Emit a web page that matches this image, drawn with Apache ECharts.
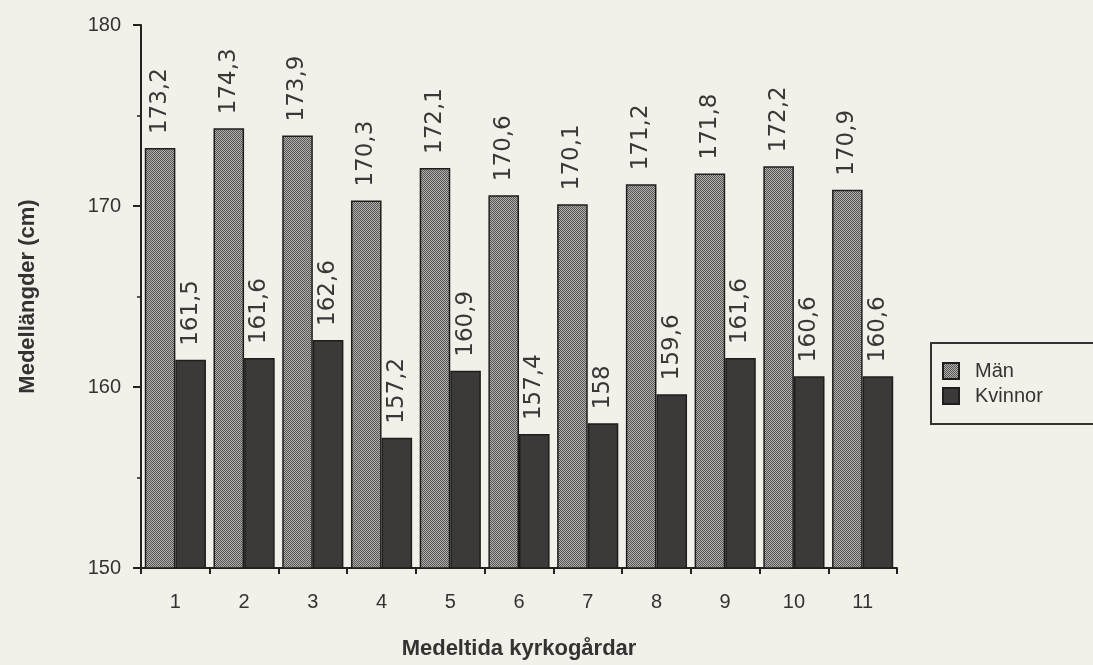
<!DOCTYPE html>
<html>
<head>
<meta charset="utf-8">
<script src="https://cdn.jsdelivr.net/npm/echarts@6/dist/echarts.min.js"></script>
<style>
  html, body { margin: 0; padding: 0; background: #f3f0e9; }
  #chart { width: 1093px; height: 665px; }
</style>
</head>
<body>
<div id="chart"></div>
<script>
const categories = ['1', '2', '3', '4', '5', '6', '7', '8', '9', '10', '11']
const man = [173.2, 174.3, 173.9, 170.3, 172.1, 170.6, 170.1, 171.2, 171.8, 172.2, 170.9]
const kvinnor = [161.5, 161.6, 162.6, 157.2, 160.9, 157.4, 158, 159.6, 161.6, 160.6, 160.6]

const font = '"Liberation Sans", Arial, sans-serif'

// dotted screen like the printed original
function dotPattern() {
  const c = document.createElement('canvas')
  c.width = 2
  c.height = 2
  const ctx = c.getContext('2d')
  ctx.fillStyle = '#b2b0ac'
  ctx.fillRect(0, 0, 2, 2)
  ctx.fillStyle = '#575654'
  ctx.fillRect(0, 0, 1, 1)
  ctx.fillRect(1, 1, 1, 1)
  return c
}

function fmt(p) {
  return String(p.value).replace('.', ',')
}

// the scan's value labels run long, so a wider face is used for them
const label = {
  show: true,
  position: 'top',
  rotate: 90,
  align: 'left',
  verticalAlign: 'middle',
  distance: 14,
  fontSize: 23,
  fontFamily: '"DejaVu Sans", sans-serif',
  color: '#383838',
  formatter: fmt
}

const chart = echarts.init(document.getElementById('chart'), null, { renderer: 'canvas' })
chart.setOption({
  backgroundColor: '#f3f0e9',
  animation: false,
  textStyle: { fontFamily: font },
  grid: { left: 141, right: 196, top: 25, bottom: 96 },
  legend: {
    left: 931,
    top: 343,
    orient: 'vertical',
    icon: 'rect',
    padding: [18, 90, 18, 11],
    itemWidth: 16,
    itemHeight: 16,
    itemGap: 5,
    borderColor: '#333',
    borderWidth: 2,
    textStyle: { fontSize: 20, color: '#333', fontFamily: font, padding: [0, 0, 0, 11] },
    data: ['Män', 'Kvinnor']
  },
  xAxis: {
    type: 'category',
    data: categories,
    name: 'Medeltida kyrkogårdar',
    nameLocation: 'middle',
    nameGap: 70,
    nameTextStyle: { fontSize: 22, fontWeight: 'bold', color: '#333' },
    axisLine: { lineStyle: { color: '#222', width: 2 } },
    axisTick: { show: true, length: 6, lineStyle: { color: '#222', width: 2 } },
    axisLabel: { fontSize: 20, color: '#333', margin: 24 }
  },
  yAxis: {
    type: 'value',
    min: 150,
    max: 180,
    interval: 10,
    name: 'Medellängder (cm)',
    nameLocation: 'middle',
    nameGap: 102,
    nameTextStyle: { fontSize: 22, fontWeight: 'bold', color: '#333' },
    axisLine: { show: true, lineStyle: { color: '#222', width: 2 } },
    axisTick: { show: true, length: 8, lineStyle: { color: '#222', width: 2 } },
    minorTick: { show: true, splitNumber: 2, length: 4, lineStyle: { color: '#222', width: 1.5 } },
    splitLine: { show: false },
    axisLabel: { fontSize: 20, color: '#333', margin: 20 }
  },
  series: [
    {
      name: 'Män',
      type: 'bar',
      data: man,
      barGap: '0%',
      barCategoryGap: '11%',
      itemStyle: {
        color: { image: dotPattern(), repeat: 'repeat' },
        borderColor: '#1e1e1e',
        borderWidth: 1.5
      },
      label: label
    },
    {
      name: 'Kvinnor',
      type: 'bar',
      data: kvinnor,
      itemStyle: {
        color: '#3b3a39',
        borderColor: '#1e1e1e',
        borderWidth: 1.5
      },
      label: label
    }
  ]
})
</script>
</body>
</html>
